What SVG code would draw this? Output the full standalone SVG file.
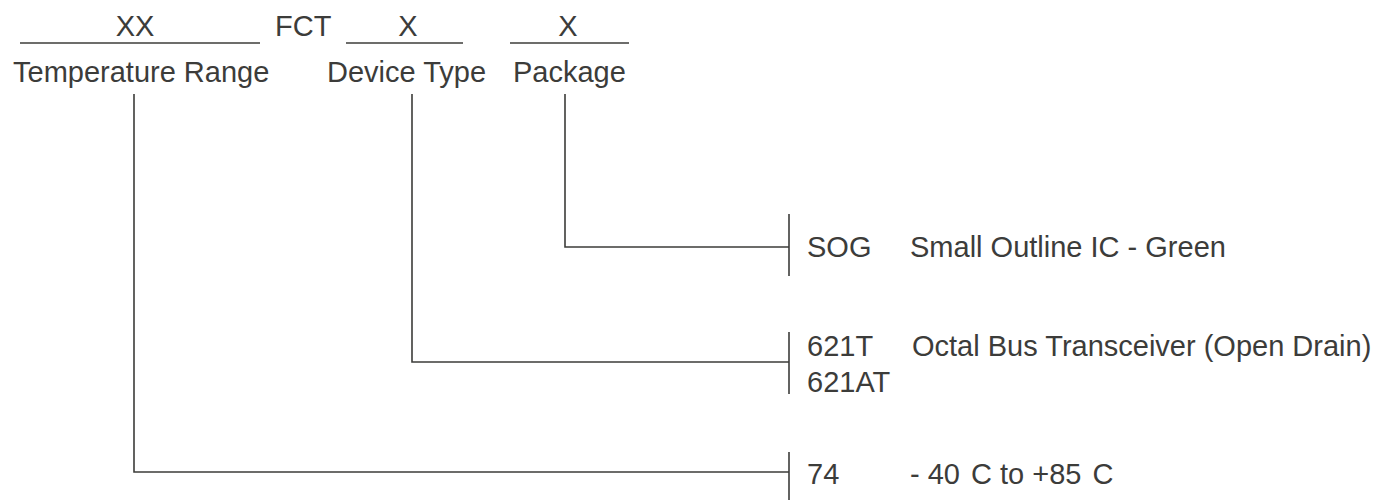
<svg xmlns="http://www.w3.org/2000/svg" width="1377" height="500" viewBox="0 0 1377 500">
<style>
text{font-family:"Liberation Sans",Arial,sans-serif;font-size:29px;fill:#3c3c3a}
.u{stroke:#3c3c3a;stroke-width:1.5;fill:none}
.c{stroke:#3c3c3a;stroke-width:1.6;fill:none}
.bar{stroke:#3c3c3a;stroke-width:1.6}
</style>
<rect width="1377" height="500" fill="#ffffff"/>
<g id="header">
<text x="135" y="36" text-anchor="middle">XX</text>
<line class="u" x1="20" y1="43" x2="260" y2="43"/>
<text x="275" y="36">FCT</text>
<text x="408" y="36" text-anchor="middle">X</text>
<line class="u" x1="346" y1="43" x2="463" y2="43"/>
<text x="568" y="36" text-anchor="middle">X</text>
<line class="u" x1="510" y1="43" x2="629" y2="43"/>
</g>
<g id="temperature-range"><text x="13" y="82">Temperature Range</text></g>
<g id="device-type"><text x="327" y="82">Device Type</text></g>
<g id="package"><text x="513" y="82">Package</text></g>
<g id="connectors">
<polyline class="c" points="565,94 565,247 789,247"/>
<polyline class="c" points="412,94 412,362 789,362"/>
<polyline class="c" points="134,94 134,472 789,472"/>
<line class="bar" x1="789" y1="214" x2="789" y2="276"/>
<line class="bar" x1="789" y1="332" x2="789" y2="394"/>
<line class="bar" x1="789" y1="452" x2="789" y2="500"/>
</g>
<g id="opt-sog">
<text x="807" y="257">SOG</text>
<text x="910" y="257">Small Outline IC - Green</text>
</g>
<g id="opt-621">
<text x="807" y="356">621T</text>
<text x="912" y="356">Octal Bus Transceiver (Open Drain)</text>
<text x="807" y="392">621AT</text>
</g>
<g id="opt-74">
<text x="807" y="484">74</text>
<text x="910" y="484">- 40 <tspan dx="3">C to +85 </tspan><tspan dx="3">C</tspan></text>
</g>
</svg>
